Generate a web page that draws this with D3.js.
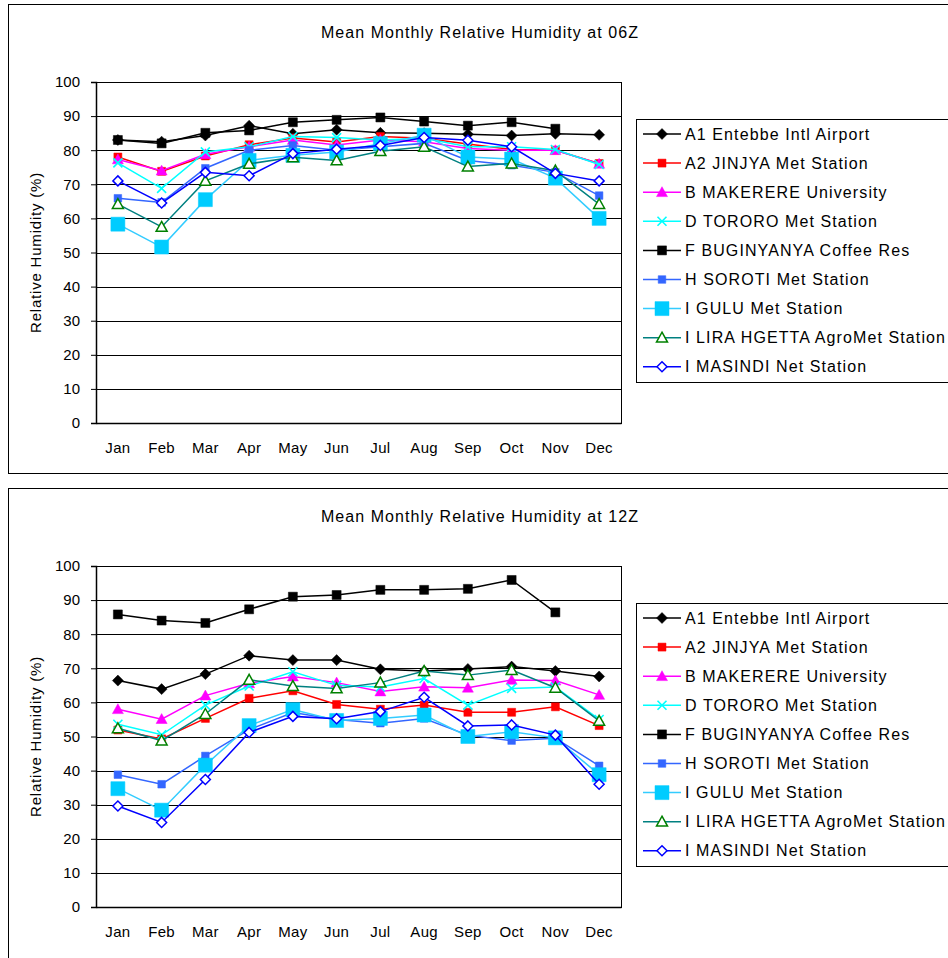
<!DOCTYPE html>
<html>
<head>
<meta charset="utf-8">
<script src="https://cdn.jsdelivr.net/npm/d3@7/dist/d3.min.js"></script>
<style>
  html, body { margin: 0; padding: 0; background: #fff; }
  svg { display: block; }
  text { font-family: "Liberation Sans", Arial, sans-serif; fill: #000; }
</style>
</head>
<body>
<div id="chart"></div>
<script>
// Month categories
const months = ["Jan", "Feb", "Mar", "Apr", "May", "Jun", "Jul", "Aug", "Sep", "Oct", "Nov", "Dec"];

// Station names (legend order)
const stations = [
  "A1 Entebbe Intl Airport",
  "A2 JINJYA Met Station",
  "B MAKERERE University",
  "D TORORO Met Station",
  "F BUGINYANYA Coffee Res",
  "H SOROTI Met Station",
  "I GULU Met Station",
  "I LIRA HGETTA AgroMet Station",
  "I MASINDI Net Station"
];

// Y axis ticks
const yTicks = [0, 10, 20, 30, 40, 50, 60, 70, 80, 90, 100];

// Mean monthly relative humidity (%) at 06Z
const entebbe06   = [83.0, 82.5, 84.3, 87.2, 84.8, 86.0, 85.1, 85.0, 84.7, 84.3, 84.8, 84.5];
const jinja06     = [78.0, 73.8, 78.3, 81.6, 83.6, 82.4, 84.0, 83.5, 81.8, 80.2, 80.0, 76.1];
const makerere06  = [77.3, 74.0, 78.8, 81.0, 83.0, 81.5, 83.0, 82.5, 80.5, 80.0, 80.0, 76.0];
const tororo06    = [76.3, 68.8, 79.5, 81.0, 84.0, 83.7, 83.0, 83.5, 81.0, 81.0, 80.2, 75.8];
const buginyanya06 = [83.0, 82.0, 85.1, 85.8, 88.2, 88.9, 89.6, 88.4, 87.2, 88.2, 86.3, null];
const soroti06    = [65.9, 64.7, 74.7, 80.0, 81.4, 80.0, 81.0, 82.0, 77.0, 75.6, 73.5, 66.7];
const gulu06      = [58.3, 51.6, 65.5, 77.0, 78.5, 79.5, 81.9, 84.4, 78.0, 77.4, 71.8, 60.0];
const lira06      = [64.2, 57.5, 71.0, 76.0, 77.9, 77.0, 79.7, 81.0, 75.2, 76.1, 74.0, 64.2];
const masindi06   = [71.0, 64.5, 73.5, 72.5, 79.0, 80.3, 81.4, 83.7, 82.9, 81.0, 73.2, 71.0];

// Mean monthly relative humidity (%) at 12Z
const entebbe12   = [66.4, 63.9, 68.3, 73.7, 72.4, 72.4, 69.7, 69.2, 69.8, 70.5, 69.2, 67.6];
const jinja12     = [51.9, 49.3, 55.3, 61.2, 63.4, 59.4, 58.0, 59.2, 57.1, 57.1, 58.7, 53.2];
const makerere12  = [58.0, 55.1, 62.0, 65.6, 67.6, 65.8, 63.2, 64.6, 64.3, 66.6, 66.4, 62.2];
const tororo12    = [53.6, 50.5, 59.2, 64.8, 69.0, 65.0, 64.5, 67.0, 59.2, 64.1, 64.5, 55.0];
const buginyanya12 = [85.8, 84.0, 83.3, 87.3, 91.0, 91.5, 93.0, 93.0, 93.3, 95.9, 86.4, null];
const soroti12    = [38.8, 36.0, 44.3, 52.0, 57.0, 55.0, 53.9, 55.3, 50.4, 48.8, 49.5, 41.4];
const gulu12      = [34.7, 28.4, 41.6, 53.2, 57.9, 54.7, 55.3, 56.3, 50.0, 51.4, 49.6, 38.8];
const lira12      = [52.4, 48.8, 56.6, 66.6, 64.8, 64.1, 65.8, 69.2, 68.0, 69.5, 64.3, 54.6];
const masindi12   = [29.6, 24.8, 37.4, 51.2, 55.9, 55.2, 57.3, 61.5, 53.1, 53.4, 50.4, 36.0];

const panels = [
  { title: "Mean Monthly Relative Humidity at 06Z", dy: 0,
    series: [entebbe06, jinja06, makerere06, tororo06, buginyanya06, soroti06, gulu06, lira06, masindi06] },
  { title: "Mean Monthly Relative Humidity at 12Z", dy: 484,
    series: [entebbe12, jinja12, makerere12, tororo12, buginyanya12, soroti12, gulu12, lira12, masindi12] }
];

// Line colour and marker for each station
const styles = [
  { line: "#000000", marker: "diamond", fill: "#000000", stroke: "#000000", size: 5.5 },
  { line: "#FF0000", marker: "square",  fill: "#FF0000", stroke: "#FF0000", size: 4 },
  { line: "#FF00FF", marker: "triangle", fill: "#FF00FF", stroke: "#FF00FF", size: 5.5 },
  { line: "#00FFFF", marker: "cross",   fill: "none",    stroke: "#00FFFF", size: 4.5 },
  { line: "#000000", marker: "square",  fill: "#000000", stroke: "#000000", size: 4.5 },
  { line: "#3366FF", marker: "square",  fill: "#3366FF", stroke: "#3366FF", size: 3.8 },
  { line: "#33CCFF", marker: "square",  fill: "#00CCFF", stroke: "#00CCFF", size: 7 },
  { line: "#008080", marker: "triangle", fill: "#FFFFFF", stroke: "#008000", size: 5.5 },
  { line: "#0000FF", marker: "diamond", fill: "#FFFFFF", stroke: "#0000FF", size: 5 }
];

const W = 948, H = 958;
const plotL = 96, plotR = 621, plotT = 82, plotB = 423;

const svg = d3.select("#chart").append("svg")
  .attr("width", W).attr("height", H)
  .attr("viewBox", `0 0 ${W} ${H}`);

svg.append("rect").attr("width", W).attr("height", H).attr("fill", "#fff");

function markerPath(type, s) {
  if (type === "diamond") return `M0,${-s}L${s},0L0,${s}L${-s},0Z`;
  if (type === "square") return `M${-s},${-s}H${s}V${s}H${-s}Z`;
  if (type === "triangle") return `M0,${-s}L${s},${s * 0.8}L${-s},${s * 0.8}Z`;
  if (type === "cross") return `M${-s},${-s}L${s},${s}M${s},${-s}L${-s},${s}`;
  return "";
}

function drawMarker(g, st, x, y) {
  g.append("path")
    .attr("transform", `translate(${x},${y})`)
    .attr("d", markerPath(st.marker, st.size))
    .attr("fill", st.fill)
    .attr("stroke", st.stroke)
    .attr("stroke-width", st.marker === "cross" ? 1.6 : (st.fill === "#FFFFFF" ? 1.5 : 0.5));
}

panels.forEach(panel => {
  const dy = panel.dy;
  const g = svg.append("g").attr("transform", `translate(0,${dy})`);

  // Chart frame (runs off the right edge)
  g.append("rect")
    .attr("x", 8.5).attr("y", 4.5)
    .attr("width", 980).attr("height", dy === 0 ? 469 : 490)
    .attr("fill", "#fff").attr("stroke", "#000").attr("stroke-width", 1);

  g.append("text")
    .attr("x", 480).attr("y", 32)
    .attr("text-anchor", "middle").attr("dominant-baseline", "central")
    .attr("font-size", 16).attr("letter-spacing", "1.05px")
    .text(panel.title);

  const x = d3.scaleBand().domain(months).range([plotL, plotR]);
  const y = d3.scaleLinear().domain([0, 100]).range([plotB, plotT]);

  // Horizontal gridlines
  g.append("g").selectAll("line").data(yTicks.filter(v => v > 0 && v < 100)).join("line")
    .attr("x1", plotL).attr("x2", plotR)
    .attr("y1", d => Math.round(y(d)) + 0.5).attr("y2", d => Math.round(y(d)) + 0.5)
    .attr("stroke", "#000").attr("stroke-width", 1);

  // Plot area border
  g.append("rect")
    .attr("x", plotL + 0.5).attr("y", plotT + 0.5)
    .attr("width", plotR - plotL).attr("height", plotB - plotT)
    .attr("fill", "none").attr("stroke", "#000").attr("stroke-width", 1);

  // Y axis
  const yAxis = g.append("g").attr("transform", `translate(${plotL},0)`)
    .call(d3.axisLeft(y).tickValues(yTicks).tickSize(5).tickPadding(11).tickFormat(d3.format("d")));
  yAxis.select(".domain").attr("stroke", "#000").attr("stroke-width", 1.5);
  yAxis.selectAll(".tick line").attr("stroke", "#000");
  yAxis.selectAll("text").attr("font-size", 15).attr("font-family", "Liberation Sans, Arial, sans-serif");

  // X axis
  const xAxis = g.append("g").attr("transform", `translate(0,${plotB})`)
    .call(d3.axisBottom(x).tickSize(0).tickPadding(19));
  xAxis.select(".domain").attr("stroke", "#000").attr("stroke-width", 1.5);
  xAxis.selectAll("text").attr("font-size", 15).attr("letter-spacing", "0.3px")
    .attr("font-family", "Liberation Sans, Arial, sans-serif");

  // Y axis title
  g.append("text")
    .attr("transform", `translate(35,${(plotT + plotB) / 2}) rotate(-90)`)
    .attr("text-anchor", "middle").attr("dominant-baseline", "central")
    .attr("font-size", 15).attr("letter-spacing", "0.8px")
    .text("Relative Humidity (%)");

  // Series lines and markers
  const line = d3.line()
    .defined(d => d != null)
    .x((d, i) => x(months[i]) + x.bandwidth() / 2)
    .y(d => y(d));

  panel.series.forEach((vals, si) => {
    const st = styles[si];
    const sg = g.append("g");
    sg.append("path")
      .attr("d", line(vals))
      .attr("fill", "none").attr("stroke", st.line).attr("stroke-width", 1.5);
    vals.forEach((v, i) => {
      if (v == null) return;
      drawMarker(sg, st, x(months[i]) + x.bandwidth() / 2, y(v));
    });
  });

  // Legend
  const lg = g.append("g");
  lg.append("rect")
    .attr("x", 636.5).attr("y", 119.5)
    .attr("width", 340).attr("height", 263)
    .attr("fill", "#fff").attr("stroke", "#000").attr("stroke-width", 1);

  stations.forEach((name, i) => {
    const st = styles[i];
    const cy = 134 + i * 29.1;
    lg.append("line")
      .attr("x1", 643).attr("x2", 681).attr("y1", cy).attr("y2", cy)
      .attr("stroke", st.line).attr("stroke-width", 1.5);
    drawMarker(lg, st, 662, cy);
    lg.append("text")
      .attr("x", 685).attr("y", cy)
      .attr("dominant-baseline", "central")
      .attr("font-size", 16).attr("letter-spacing", "1.1px")
      .text(name);
  });
});
</script>
</body>
</html>
